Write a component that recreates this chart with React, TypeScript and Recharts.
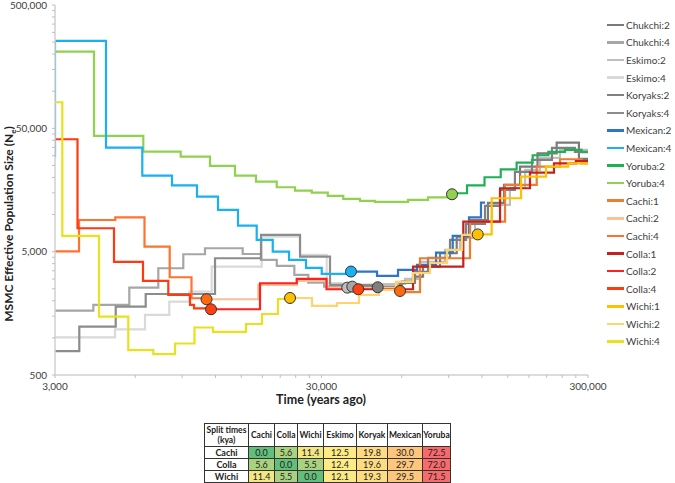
import React from "react";
import { ComposedChart, Line, XAxis, YAxis, ReferenceDot } from "recharts";

// MSMC step curves: [years ago, Ne], each point starts a new step level
const chukchi2 = [[39150, 2602], [59995, 2856], [66150, 3135], [72120, 3779], [83540, 4853], [96480, 6618], [108240, 9035], [126400, 12410], [145240, 17370], [166800, 24440], [193950, 31290], [228860, 38290], [277380, 28226], [300000, 28226]];
const chukchi4 = [[3000, 1662], [4178, 1849], [5701, 2554], [7324, 3668], [9089, 4764], [10964, 5329], [15187, 4789], [17788, 4282], [20380, 3830], [23723, 3237], [26768, 2803], [30663, 2602], [39150, 2602]];
const eskimo2 = [[37495, 2554], [49730, 2735], [61730, 3004], [70270, 4125], [87230, 5162], [99280, 6459], [113020, 8704], [130840, 11958], [152800, 16421], [174170, 22980], [198200, 28750], [235500, 33400], [300000, 33400]];
const eskimo4 = [[3000, 1011], [5038, 1174], [6529, 1534], [8054, 1966], [9574, 2370], [11618, 3779], [17896, 6618], [24919, 4701], [31380, 2786], [37495, 2554]];
const koryaks2 = [[48750, 2572], [59120, 2786], [67300, 3423], [75300, 4445], [91070, 6222], [104560, 8381], [123200, 11740], [140300, 15820], [159550, 22140], [184860, 27700], [219760, 34670], [267940, 32180], [300000, 32180]];
const koryaks4 = [[3000, 782], [3701, 1233], [5069, 1791], [6568, 2269], [11955, 4420], [17788, 6832], [24919, 4554], [32290, 2686], [48750, 2572]];
const mexican2 = [[38700, 3450], [48466, 3178], [58110, 3553], [68470, 3901], [80700, 4908], [93220, 6707], [107300, 9502], [119000, 12485], [123200, 12485]];
const mexican4 = [[3000, 29300], [3000, 255700], [4661, 34870], [6378, 20660], [8244, 17210], [10231, 13960], [12268, 10890], [14583, 8127], [17139, 6222], [19686, 5000], [22660, 4282], [26245, 3688], [30060, 3299], [38700, 3450]];
const yoruba2 = [[92650, 14874], [105470, 17210], [122700, 20056], [141150, 23280], [161900, 26340], [186000, 30250], [212900, 32180], [245900, 33400], [283900, 32000], [300000, 32000]];
const yoruba4 = [[3000, 209400], [4203, 43410], [6434, 32360], [8887, 29460], [11449, 24770], [14210, 20660], [17037, 18470], [20380, 16640], [23870, 15615], [27565, 15040], [31660, 14154], [36220, 13380], [41840, 12885], [47640, 12650], [63350, 13130], [75300, 13760], [92650, 14600]];
const cachi1 = [[59120, 2350], [70270, 4420], [108240, 8752], [146500, 17370], [192600, 24440], [235500, 28070], [283900, 26040], [300000, 26040]];
const cachi2 = [[11108, 2056], [17378, 2686], [24283, 2893], [31462, 2539], [59120, 2400]];
const cachi4 = [[3000, 5020], [3692, 9035], [5051, 9502], [6501, 5490], [8082, 3100], [9757, 2095], [11108, 2056]];
const colla1 = [[41230, 2478], [66150, 3779], [102150, 8752], [140300, 16330], [181700, 21850], [223600, 26040], [270250, 27180], [300000, 27180]];
const colla2 = [[11549, 1706], [17635, 2772], [24220, 3004], [31330, 2478], [41230, 2478]];
const colla4 = [[3000, 40800], [3644, 7742], [4995, 4125], [6417, 2893], [7985, 2228], [9632, 1849], [9971, 1732], [11549, 1706]];
const wichi1 = [[115680, 6900], [130500, 13554], [168250, 20280], [208750, 24440], [252860, 26040], [300000, 26040]];
const wichi2 = [[22857, 2106], [27637, 1815], [34300, 1918], [41480, 2228], [49300, 2446], [57110, 2840], [66150, 3358], [76610, 4047], [88740, 5162], [101010, 6832], [115680, 6900]];
const wichi4 = [[3000, 81380], [3196, 6707], [4388, 1486], [5652, 797], [7016, 739], [8461, 900], [10014, 1214], [11750, 1117], [15626, 1296], [17942, 1562], [20606, 2067], [22857, 2106]];

// split-time markers [years ago, Ne]
const splitMarks = [[37495, 2554], [39150, 2602], [48750, 2572], [38700, 3450], [92650, 14600], [11108, 2056], [59120, 2400], [11549, 1706], [41230, 2478], [22857, 2106], [115680, 6900]];

// axis ticks
const xMajor = [3000, 30000, 300000];
const xMinor = [6000, 9000, 12000, 15000, 18000, 21000, 24000, 27000, 60000, 90000, 120000, 150000, 180000, 210000, 240000, 270000];
const yMajor = [500, 5000, 50000, 500000];
const yMinor = [1000, 1500, 2000, 2500, 3000, 3500, 4000, 4500, 10000, 15000, 20000, 25000, 30000, 35000, 40000, 45000, 100000, 150000, 200000, 250000, 300000, 350000, 400000, 450000];

// split times table (kya)
const tableCols = ["Cachi", "Colla", "Wichi", "Eskimo", "Koryak", "Mexican", "Yoruba"];
const tableRows = ["Cachi", "Colla", "Wichi"];
const splitCachi = [0.0, 5.6, 11.4, 12.5, 19.8, 30.0, 72.5];
const splitColla = [5.6, 0.0, 5.5, 12.4, 19.6, 29.7, 72.0];
const splitWichi = [11.4, 5.5, 0.0, 12.1, 19.3, 29.5, 71.5];

const legendOrder = ["Chukchi:2", "Chukchi:4", "Eskimo:2", "Eskimo:4", "Koryaks:2", "Koryaks:4", "Mexican:2", "Mexican:4", "Yoruba:2", "Yoruba:4", "Cachi:1", "Cachi:2", "Cachi:4", "Colla:1", "Colla:2", "Colla:4", "Wichi:1", "Wichi:2", "Wichi:4"];

const seriesData: { [k: string]: number[][] } = {
  "Chukchi:2": chukchi2, "Chukchi:4": chukchi4, "Eskimo:2": eskimo2, "Eskimo:4": eskimo4,
  "Koryaks:2": koryaks2, "Koryaks:4": koryaks4, "Mexican:2": mexican2, "Mexican:4": mexican4,
  "Yoruba:2": yoruba2, "Yoruba:4": yoruba4, "Cachi:1": cachi1, "Cachi:2": cachi2, "Cachi:4": cachi4,
  "Colla:1": colla1, "Colla:2": colla2, "Colla:4": colla4, "Wichi:1": wichi1, "Wichi:2": wichi2, "Wichi:4": wichi4,
};

const colors: { [k: string]: string } = {
  "Chukchi:2": "#7a7a7a", "Chukchi:4": "#a6a6a6", "Eskimo:2": "#bfbfbf", "Eskimo:4": "#d9d9d9",
  "Koryaks:2": "#808080", "Koryaks:4": "#8c8c8c", "Mexican:2": "#2e75c6", "Mexican:4": "#1bb0f0",
  "Yoruba:2": "#1fb055", "Yoruba:4": "#92d050", "Cachi:1": "#ed7d31", "Cachi:2": "#f9c196", "Cachi:4": "#ff7230",
  "Colla:1": "#c8201e", "Colla:2": "#ff2020", "Colla:4": "#ff3a10", "Wichi:1": "#ffc000", "Wichi:2": "#ffd36e", "Wichi:4": "#e8e21e",
};

// paint order: greys underneath, coloured curves on top
const drawOrder = ["Eskimo:4", "Eskimo:2", "Chukchi:4", "Koryaks:4", "Chukchi:2", "Koryaks:2", "Yoruba:4", "Yoruba:2", "Mexican:4", "Mexican:2", "Cachi:2", "Cachi:4", "Cachi:1", "Colla:4", "Colla:2", "Colla:1", "Wichi:4", "Wichi:2", "Wichi:1"];
const markFills = ["#bfbfbf", "#a6a6a6", "#7f7f7f", "#1bb0f0", "#92d050", "#ff6a10", "#ff6a10", "#ff4010", "#ff4010", "#ffc000", "#ffc000"];

const fmt = (majors: number[]) => (v: number) => (majors.includes(v) ? v.toLocaleString("en-US") : "");

function heat(v: number) {
  const green = [99, 190, 123], yellow = [255, 235, 132], red = [248, 105, 107];
  const mid = 12.4, max = 72.5;
  const mix = (a: number[], b: number[], t: number) => `rgb(${a.map((c, i) => Math.round(c + (b[i] - c) * t)).join(",")})`;
  return v <= mid ? mix(green, yellow, v / mid) : mix(yellow, red, (v - mid) / (max - mid));
}

export default function App() {
  const font = "Lato, 'Open Sans', sans-serif";
  const tableVals = [splitCachi, splitColla, splitWichi];
  const colW = [44, 26, 23, 26, 33, 31, 35, 28];
  const cell: React.CSSProperties = { border: "1px solid #333", padding: 0, textAlign: "center", fontSize: 9, lineHeight: "11px", color: "#222" };

  return (
    <div style={{ position: "absolute", left: 0, top: 0, width: 675, height: 483, background: "#fff", fontFamily: font, overflow: "hidden" }}>
      <ComposedChart width={675} height={410} margin={{ top: 5, right: 87, bottom: 0, left: 0 }}>
        <XAxis
          dataKey="t"
          type="number"
          scale="log"
          domain={[3000, 300000]}
          allowDataOverflow
          ticks={[...xMajor, ...xMinor].sort((a, b) => a - b)}
          interval={0}
          tickFormatter={fmt(xMajor)}
          height={35}
          tickSize={3}
          tickMargin={5}
          axisLine={{ stroke: "#d0d0d0", strokeWidth: 1.5 }}
          tickLine={{ stroke: "#bfbfbf" }}
          tick={{ fontSize: 10, fill: "#404040", fontFamily: font }}
        />
        <YAxis
          dataKey="ne"
          type="number"
          scale="log"
          domain={[500, 500000]}
          allowDataOverflow
          ticks={[...yMajor, ...yMinor].sort((a, b) => a - b)}
          interval={0}
          tickFormatter={fmt(yMajor)}
          width={55}
          tickSize={3}
          tickMargin={5}
          axisLine={{ stroke: "#d0d0d0", strokeWidth: 1.5 }}
          tickLine={{ stroke: "#bfbfbf" }}
          tick={{ fontSize: 10, fill: "#404040", fontFamily: font }}
        />
        {drawOrder.map((name) => (
          <Line
            key={name}
            name={name}
            data={seriesData[name].map(([t, ne]) => ({ t, ne }))}
            dataKey="ne"
            type="stepAfter"
            stroke={colors[name]}
            strokeWidth={2.2}
            dot={false}
            activeDot={false}
            isAnimationActive={false}
          />
        ))}
        {splitMarks.map(([t, ne], i) => (
          <ReferenceDot key={i} x={t} y={ne} r={5.5} fill={markFills[i]} stroke="#333" strokeWidth={1} />
        ))}
      </ComposedChart>

      <div style={{ position: "absolute", left: 9, top: 224, transform: "translate(-50%, -50%) rotate(-90deg)", whiteSpace: "nowrap", fontWeight: 700, fontSize: 12, lineHeight: "14px", color: "#222" }}>
        MSMC Effective Population Size (N<span style={{ fontSize: 8, position: "relative", top: 3 }}>e</span>)
      </div>
      <div style={{ position: "absolute", left: 321, top: 399, transform: "translate(-50%, -50%)", whiteSpace: "nowrap", fontWeight: 700, fontSize: 12.5, color: "#222" }}>
        Time (years ago)
      </div>

      <div style={{ position: "absolute", left: 607, top: 16 }}>
        {legendOrder.map((name) => (
          <div key={name} style={{ display: "flex", alignItems: "center", height: 17.6, whiteSpace: "nowrap" }}>
            <div style={{ width: 17, height: 2.5, background: colors[name], marginRight: 2 }} />
            <span style={{ fontSize: 10, color: "#404040" }}>{name}</span>
          </div>
        ))}
      </div>

      <table style={{ position: "absolute", left: 204, top: 423, borderCollapse: "collapse", tableLayout: "fixed", width: 246, border: "1.5px solid #222" }}>
        <colgroup>
          {colW.map((w, i) => (
            <col key={i} style={{ width: w }} />
          ))}
        </colgroup>
        <tbody>
          <tr style={{ height: 23 }}>
            <td style={{ ...cell, fontWeight: 700, fontSize: 8.5, lineHeight: "10px" }}>Split times (kya)</td>
            {tableCols.map((c) => (
              <td key={c} style={{ ...cell, fontWeight: 700, fontSize: 8.5 }}>{c}</td>
            ))}
          </tr>
          {tableRows.map((r, ri) => (
            <tr key={r} style={{ height: 12 }}>
              <td style={{ ...cell, fontWeight: 700 }}>{r}</td>
              {tableVals[ri].map((v, ci) => (
                <td key={ci} style={{ ...cell, background: heat(v) }}>{v.toFixed(1)}</td>
              ))}
            </tr>
          ))}
        </tbody>
      </table>
    </div>
  );
}
